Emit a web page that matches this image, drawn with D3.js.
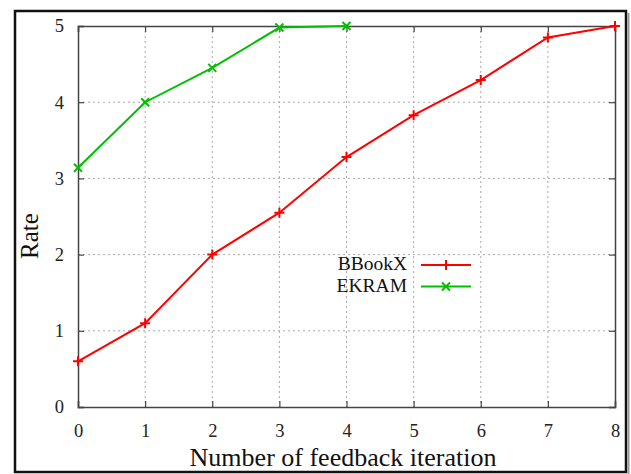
<!DOCTYPE html>
<html>
<head>
<meta charset="utf-8">
<script src="https://cdn.jsdelivr.net/npm/d3@7"></script>
<style>
  body { margin: 0; background: #fff; }
  svg { display: block; }
</style>
</head>
<body>
<div id="chart"></div>
<script>
// values
var iterations = [0, 1, 2, 3, 4, 5, 6, 7, 8];
var bbookx = [0.6, 1.1, 2.0, 2.55, 3.28, 3.83, 4.29, 4.85, 5.0];
var ekramIter = [0, 1, 2, 3, 4];
var ekram = [3.14, 4.0, 4.45, 4.98, 5.0];
var xTicks = [0, 1, 2, 3, 4, 5, 6, 7, 8];
var yTicks = [0, 1, 2, 3, 4, 5];

const width = 631, height = 474;
const padL = 78, padR = 615, padT = 26, padB = 407;
const font = "'Liberation Serif', 'Times New Roman', serif";

const svg = d3.select("#chart").append("svg")
    .attr("width", width)
    .attr("height", height);

// outer frame
svg.append("rect")
    .attr("x", 15).attr("y", 11)
    .attr("width", 611).attr("height", 461)
    .attr("fill", "none")
    .attr("stroke", "#111")
    .attr("stroke-width", 2.5);
svg.append("line")
    .attr("x1", 628.5).attr("x2", 628.5)
    .attr("y1", 13).attr("y2", 474)
    .attr("stroke", "#999")
    .attr("stroke-width", 2);

var x = d3.scaleLinear().domain([0, 8]).range([padL, padR]);
var y = d3.scaleLinear().domain([0, 5]).range([padB, padT]);

// grid
var grid = svg.append("g");
grid.selectAll("vgrid")
    .data(xTicks.slice(1, -1))
    .enter().append("line")
    .attr("x1", d => x(d)).attr("x2", d => x(d))
    .attr("y1", padT).attr("y2", padB)
    .attr("stroke", "#aaa")
    .attr("stroke-dasharray", "2,3");
grid.selectAll("hgrid")
    .data(yTicks.slice(1, -1))
    .enter().append("line")
    .attr("x1", padL).attr("x2", padR)
    .attr("y1", d => y(d)).attr("y2", d => y(d))
    .attr("stroke", "#aaa")
    .attr("stroke-dasharray", "2,3");

// axes: inward ticks on all four sides
svg.append("g")
    .attr("transform", "translate(0," + padB + ")")
    .call(d3.axisBottom(x).tickValues(xTicks).tickSize(-6).tickPadding(17).tickFormat(d3.format("d")));
svg.append("g")
    .attr("transform", "translate(0," + padT + ")")
    .call(d3.axisTop(x).tickValues(xTicks).tickSize(-6).tickFormat(""));
svg.append("g")
    .attr("transform", "translate(" + padL + ",0)")
    .call(d3.axisLeft(y).tickValues(yTicks).tickSize(-6).tickPadding(14).tickFormat(d3.format("d")));
svg.append("g")
    .attr("transform", "translate(" + padR + ",0)")
    .call(d3.axisRight(y).tickValues(yTicks).tickSize(-6).tickFormat(""));

svg.selectAll(".domain").attr("stroke", "#444").attr("stroke-width", 1.5);
svg.selectAll(".tick line").attr("stroke", "#444").attr("stroke-width", 1.2);
svg.selectAll(".tick text")
    .style("font-family", font)
    .style("font-size", "18.5px")
    .attr("fill", "#222");

// titles
svg.append("text")
    .attr("x", 343).attr("y", 466)
    .attr("text-anchor", "middle")
    .style("font-family", font)
    .style("font-size", "26px")
    .attr("fill", "#111")
    .text("Number of feedback iteration");

svg.append("text")
    .attr("transform", "translate(38,236) rotate(-90)")
    .attr("text-anchor", "middle")
    .style("font-family", font)
    .style("font-size", "25px")
    .attr("fill", "#111")
    .text("Rate");

var red = "#ff0000", green = "#00c000";

var line = d3.line()
    .x(d => x(d[0]))
    .y(d => y(d[1]));

var redPts = iterations.map((d, i) => [d, bbookx[i]]);
var greenPts = ekramIter.map((d, i) => [d, ekram[i]]);

function plus(g, cx, cy, c) {
    g.append("path")
        .attr("d", "M" + (cx - 5) + "," + cy + "H" + (cx + 5) + "M" + cx + "," + (cy - 5) + "V" + (cy + 5))
        .attr("stroke", c).attr("stroke-width", 2).attr("fill", "none");
}
function cross(g, cx, cy, c) {
    g.append("path")
        .attr("d", "M" + (cx - 4) + "," + (cy - 4) + "L" + (cx + 4) + "," + (cy + 4) + "M" + (cx - 4) + "," + (cy + 4) + "L" + (cx + 4) + "," + (cy - 4))
        .attr("stroke", c).attr("stroke-width", 2).attr("fill", "none");
}

var marks = svg.append("g");
marks.append("path")
    .datum(redPts)
    .attr("d", line)
    .attr("fill", "none")
    .attr("stroke", red)
    .attr("stroke-width", 2);
redPts.forEach(p => plus(marks, x(p[0]), y(p[1]), red));

marks.append("path")
    .datum(greenPts)
    .attr("d", line)
    .attr("fill", "none")
    .attr("stroke", green)
    .attr("stroke-width", 2);
greenPts.forEach(p => cross(marks, x(p[0]), y(p[1]), green));

// legend
var legend = [["BBookX", red, plus], ["EKRAM", green, cross]];
legend.forEach(function(l, i) {
    var ly = 265 + i * 21.5;
    svg.append("text")
        .attr("x", 407).attr("y", ly + 5)
        .attr("text-anchor", "end")
        .style("font-family", font)
        .style("font-size", "19.5px")
        .attr("fill", "#111")
        .text(l[0]);
    svg.append("line")
        .attr("x1", 421).attr("x2", 471)
        .attr("y1", ly).attr("y2", ly)
        .attr("stroke", l[1]).attr("stroke-width", 2);
    l[2](svg, 446, ly, l[1]);
});
</script>
</body>
</html>
